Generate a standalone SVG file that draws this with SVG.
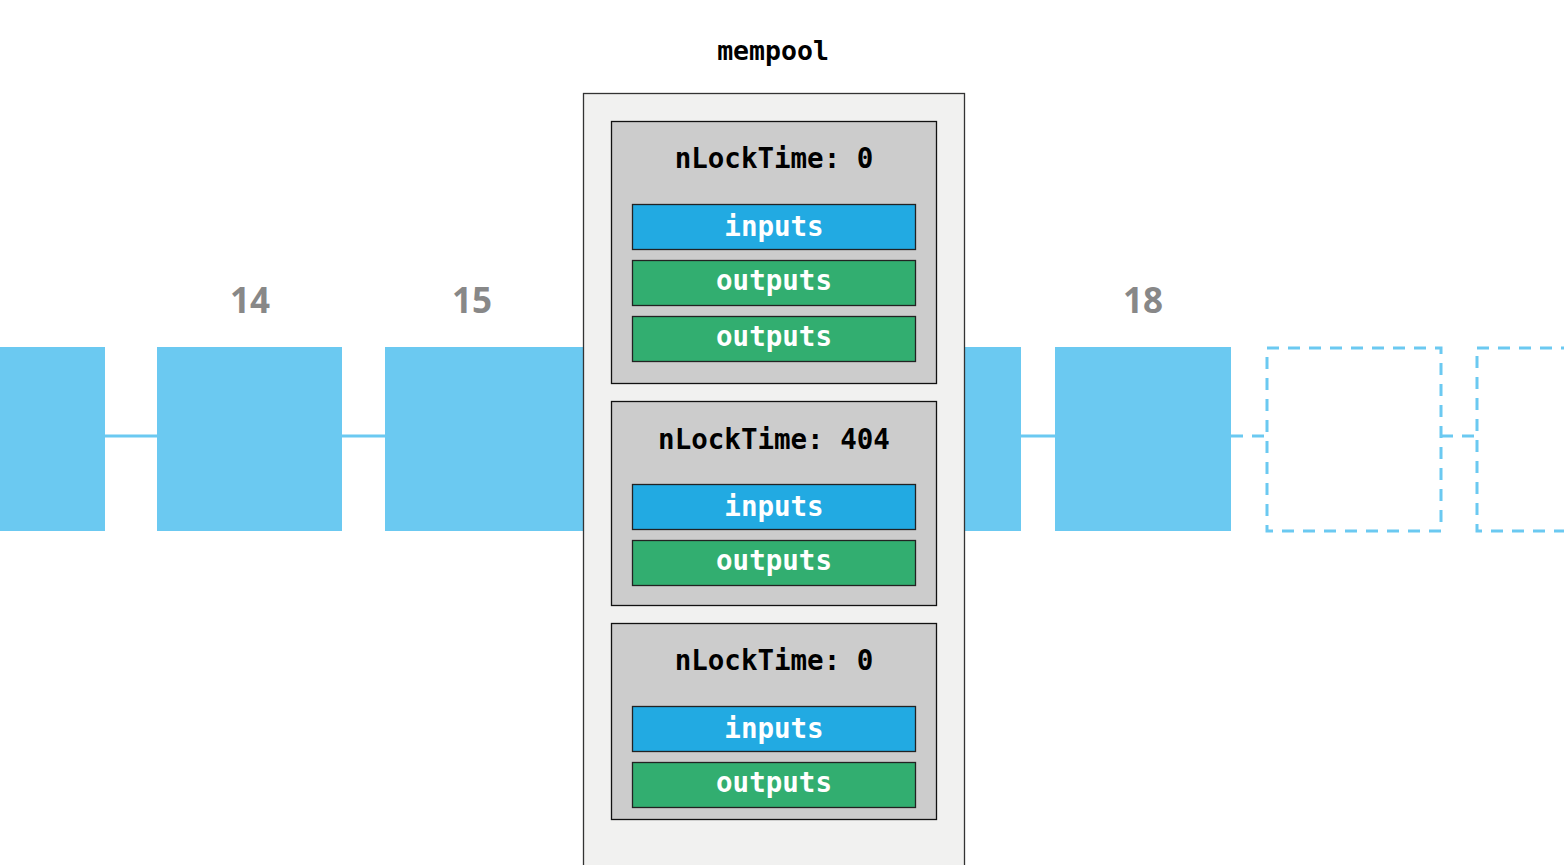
<svg xmlns="http://www.w3.org/2000/svg" width="1564" height="865" viewBox="0 0 1564 865">
<style>
.blk{fill:#6bc9f1}
.dash{fill:none;stroke:#6bc9f1;stroke-width:3;stroke-dasharray:12 9}
.con{stroke:#6bc9f1;stroke-width:3;fill:none}
.num{font-family:"Open Sans","DejaVu Sans",sans-serif;font-weight:bold;font-size:35px;fill:#888888;text-anchor:middle}
.mono{font-family:"DejaVu Sans Mono","Liberation Mono",monospace;font-weight:bold;text-anchor:middle}
.tx{fill:#cccccc;stroke:#111;stroke-width:1.3}
.in{fill:#22aae2;stroke:#222;stroke-width:1.3}
.out{fill:#32ae70;stroke:#222;stroke-width:1.3}
.lbl{font-size:27.5px;fill:#000}
.bar{font-size:27.5px;fill:#fff}
</style>
<rect width="1564" height="865" fill="#fff"/>
<g id="connectors">
<line class="con" x1="105" y1="436" x2="157" y2="436"/>
<line class="con" x1="342" y1="436" x2="385" y2="436"/>
<line class="con" x1="1021" y1="436" x2="1055" y2="436"/>
<line class="con" x1="1231" y1="436" x2="1266" y2="436" stroke-dasharray="12 9"/>
<line class="con" x1="1441" y1="436" x2="1476" y2="436" stroke-dasharray="12 9"/>
</g>
<g id="block13"><rect class="blk" x="-2" y="347" width="107" height="184"/></g>
<g id="block14"><rect class="blk" x="157" y="347" width="185" height="184"/><text class="num" x="250" y="313">14</text></g>
<g id="block15"><rect class="blk" x="385" y="347" width="210" height="184"/><text class="num" x="472" y="313">15</text></g>
<g id="block17"><rect class="blk" x="955" y="347" width="66" height="184"/></g>
<g id="block18"><rect class="blk" x="1055" y="347" width="176" height="184"/><text class="num" x="1143" y="313">18</text></g>
<g id="future1"><rect class="dash" x="1267" y="348" width="174" height="183"/></g>
<g id="future2"><rect class="dash" x="1477" y="348" width="100" height="183"/></g>
<g id="mempool">
<text class="mono" x="773" y="60" font-size="26.5" fill="#000">mempool</text>
<rect x="583.5" y="93.5" width="381" height="790" fill="#f1f1f0" stroke="#333" stroke-width="1.3"/>
</g>
<g id="tx1">
<rect class="tx" x="611.5" y="121.5" width="325" height="262"/>
<text class="mono lbl" x="774" y="168">nLockTime: 0</text>
<rect class="in" x="632.5" y="204.5" width="283" height="45"/>
<text class="mono bar" x="774" y="236">inputs</text>
<rect class="out" x="632.5" y="260.5" width="283" height="45"/>
<text class="mono bar" x="774" y="290">outputs</text>
<rect class="out" x="632.5" y="316.5" width="283" height="45"/>
<text class="mono bar" x="774" y="346">outputs</text>
</g>
<g id="tx2">
<rect class="tx" x="611.5" y="401.5" width="325" height="204"/>
<text class="mono lbl" x="774" y="449">nLockTime: 404</text>
<rect class="in" x="632.5" y="484.5" width="283" height="45"/>
<text class="mono bar" x="774" y="516">inputs</text>
<rect class="out" x="632.5" y="540.5" width="283" height="45"/>
<text class="mono bar" x="774" y="570">outputs</text>
</g>
<g id="tx3">
<rect class="tx" x="611.5" y="623.5" width="325" height="196"/>
<text class="mono lbl" x="774" y="670">nLockTime: 0</text>
<rect class="in" x="632.5" y="706.5" width="283" height="45"/>
<text class="mono bar" x="774" y="738">inputs</text>
<rect class="out" x="632.5" y="762.5" width="283" height="45"/>
<text class="mono bar" x="774" y="792">outputs</text>
</g>
</svg>
